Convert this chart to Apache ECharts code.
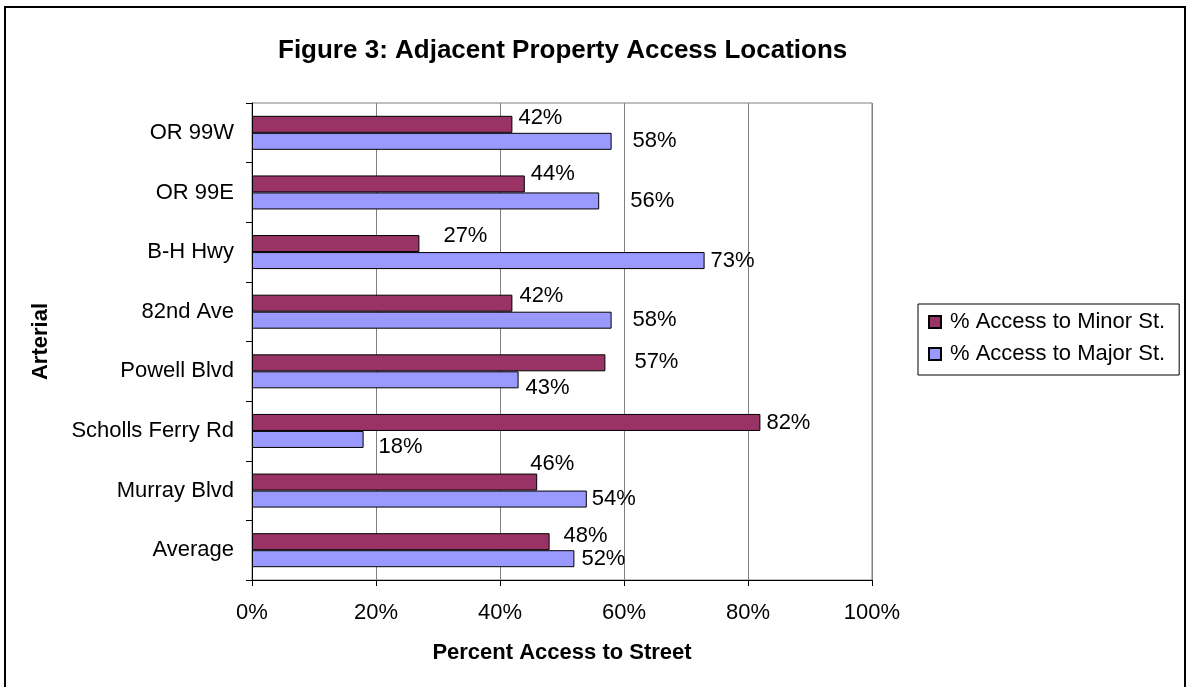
<!DOCTYPE html>
<html>
<head>
<meta charset="utf-8">
<script src="https://cdn.jsdelivr.net/npm/echarts@6/dist/echarts.min.js"></script>
<style>
html,body{margin:0;padding:0;background:#fff;}
#chart{width:1187px;height:687px;}
</style>
</head>
<body>
<div id="chart"></div>
<script>
// ---- data ----
const categories = ['OR 99W', 'OR 99E', 'B-H Hwy', '82nd Ave', 'Powell Blvd', 'Scholls Ferry Rd', 'Murray Blvd', 'Average'];
const minorAccess = [42, 44, 27, 42, 57, 82, 46, 48];
const majorAccess = [58, 56, 73, 58, 43, 18, 54, 52];
const seriesNames = ['% Access to Minor St.', '% Access to Major St.'];
const xTickValues = [0, 20, 40, 60, 80, 100];

// label nudges (styling only, relative to bar end)
const minorLabelNudge = [[6,-6],[6,-10],[24,-8],[7,-7],[29,-1],[6,0],[-7,-18],[14,-6]];
const majorLabelNudge = [[21,0],[31,0],[6,0],[21,0],[7,8],[15,7],[5,0],[7,0]];

const FONT = "'Liberation Sans', Arial, sans-serif";
const chart = echarts.init(document.getElementById('chart'));

function mkData(vals, nudges){
  return vals.map((v,i)=>({value:v, label:{offset:nudges[i]}}));
}

chart.setOption({
  animation:false,
  backgroundColor:'#fff',
  textStyle:{fontFamily:FONT},
  title:{
    text:'Figure 3: Adjacent Property Access Locations',
    left:278, top:38, padding:0,
    textStyle:{fontFamily:FONT, fontSize:26, fontWeight:'bold', color:'#000'}
  },
  legend:{
    orient:'vertical',
    left:918, top:304,
    padding:[7,14,10,10],
    itemWidth:12, itemHeight:12, itemGap:10,
    icon:'rect',
    borderColor:'#000', borderWidth:1,
    textStyle:{fontFamily:FONT, fontSize:22, color:'#000', padding:[0,0,0,4], lineHeight:22},
    data:seriesNames
  },
  grid:{
    left:252, top:103, width:620, height:477,
    show:true, borderColor:'#808080', borderWidth:1,
    containLabel:false
  },
  xAxis:{
    type:'value', min:0, max:100, interval:20,
    axisLine:{show:true, lineStyle:{color:'#000', width:1}},
    axisTick:{show:true, length:6, inside:false, lineStyle:{color:'#000'}},
    splitLine:{show:true, lineStyle:{color:'#808080', width:1}},
    axisLabel:{fontFamily:FONT, fontSize:22, color:'#000', margin:22,
      formatter:(v)=> xTickValues.includes(v) ? v + '%' : ''},
    name:'Percent Access to Street',
    nameLocation:'middle', nameGap:62,
    nameTextStyle:{fontFamily:FONT, fontSize:22, fontWeight:'bold', color:'#000'}
  },
  yAxis:{
    type:'category', data:categories, inverse:true,
    axisLine:{show:true, lineStyle:{color:'#000', width:1}},
    axisTick:{show:true, length:6, lineStyle:{color:'#000'}},
    axisLabel:{fontFamily:FONT, fontSize:22, color:'#000', margin:18},
    splitLine:{show:false},
    name:'Arterial',
    nameLocation:'middle', nameGap:200,
    nameTextStyle:{fontFamily:FONT, fontSize:22, fontWeight:'bold', color:'#000'}
  },
  series:[
    {
      name:seriesNames[0], type:'bar',
      data:mkData(minorAccess, minorLabelNudge),
      barWidth:17, barGap:'0%',
      itemStyle:{color:'#993366', borderColor:'#000', borderWidth:1},
      label:{show:true, position:'right', distance:0, formatter:'{c}%',
        fontFamily:FONT, fontSize:22, color:'#000'}
    },
    {
      name:seriesNames[1], type:'bar',
      data:mkData(majorAccess, majorLabelNudge),
      barWidth:17, barGap:'0%',
      itemStyle:{color:'#9999FF', borderColor:'#000', borderWidth:1},
      label:{show:true, position:'right', distance:0, formatter:'{c}%',
        fontFamily:FONT, fontSize:22, color:'#000'}
    }
  ],
  graphic:[
    {type:'rect', silent:true, z:100,
     shape:{x:5, y:7, width:1180, height:700},
     style:{fill:null, stroke:'#000', lineWidth:2}}
  ]
});
</script>
</body>
</html>
